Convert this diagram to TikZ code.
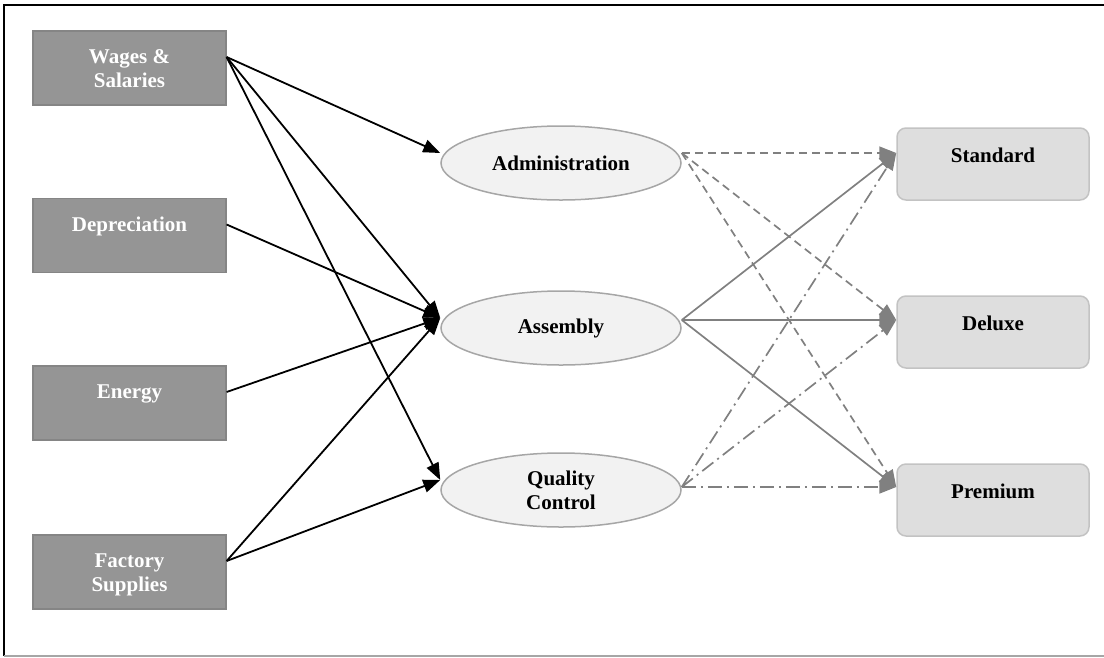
\documentclass[tikz,border=0pt]{standalone}
\usepackage{fontspec}
\setmainfont{Liberation Serif}
\usetikzlibrary{arrows.meta,shapes.geometric,calc}
\definecolor{srcfill}{HTML}{959595}
\definecolor{srcborder}{HTML}{858585}
\definecolor{ellfill}{HTML}{F2F2F2}
\definecolor{ellborder}{HTML}{A6A6A6}
\definecolor{prodfill}{HTML}{DEDEDE}
\definecolor{prodborder}{HTML}{C3C3C3}
\definecolor{arrgray}{HTML}{808080}
\begin{document}
\begin{tikzpicture}[x=1pt,y=-1pt,
  lbl/.style={font=\fontsize{21}{24}\selectfont\bfseries,align=center},
  srcbox/.style={draw=srcborder,fill=srcfill,line width=1.2pt,minimum width=193pt,minimum height=74pt,inner sep=0pt},
  srclbl/.style={lbl,text=white,inner sep=0pt,anchor=north},
  actell/.style={lbl,ellipse,draw=ellborder,fill=ellfill,line width=1.5pt,minimum width=240pt,minimum height=74pt,inner sep=0pt},
  prodbox/.style={lbl,draw=prodborder,fill=prodfill,rounded corners=9pt,line width=1.5pt,minimum width=192pt,minimum height=72pt,inner xsep=0pt,inner ysep=0pt,text height=34pt,text depth=38pt},
  blackarr/.style={draw=black,line width=1.8pt,-{Triangle[length=17pt,width=13pt]}},
  grayarr/.style={draw=arrgray,line width=1.7pt,-{Triangle[length=17pt,width=13pt]}},
  dsh/.style={dash pattern=on 8pt off 5pt},
  dshdot/.style={dash pattern=on 14pt off 5pt on 2pt off 5pt}
]
\useasboundingbox (0,0) rectangle (1104,657);
% frame
\draw[black,line width=1.5pt] (4,656) -- (4,5) -- (1104,5);
\draw[arrgray!70,line width=1.2pt] (4,656) -- (1104,656);

% source boxes
\node[srcbox] (wag) at (129.5,68) {};
\node[srcbox] (dep) at (129.5,235.5) {};
\node[srcbox] (ene) at (129.5,403) {};
\node[srcbox] (fac) at (129.5,572) {};
\node[srclbl] (wagT) at ($(wag.north)+(0,19)$) {Wages \&\\Salaries};
\node[srclbl] (depT) at ($(dep.north)+(0,19)$) {Depreciation};
\node[srclbl] (eneT) at ($(ene.north)+(0,19)$) {Energy};
\node[srclbl] (facT) at ($(fac.north)+(0,19)$) {Factory\\Supplies};

% activities
\node[actell] (adm) at (561,163) {Administration};
\node[actell] (asm) at (561,328) {Assembly};
\node[actell] (qc) at (561,490) {Quality\\Control};

% products
\node[prodbox] (std) at (993,164) {Standard};
\node[prodbox] (dlx) at (993,332) {Deluxe};
\node[prodbox] (prm) at (993,500) {Premium};

% anchor points
\coordinate (wagO) at ($(wag.east)+(0,-11)$);
\coordinate (depO) at ($(dep.east)+(0,-11)$);
\coordinate (eneO) at ($(ene.east)+(0,-11)$);
\coordinate (facO) at ($(fac.east)+(0,-11)$);
\coordinate (admI) at ($(adm.west)+(0,-10)$);
\coordinate (asmI) at ($(asm.west)+(0,-10)$);
\coordinate (qcI) at ($(qc.west)+(0,-10)$);
\coordinate (admO) at ($(adm.east)+(0,-10)$);
\coordinate (asmO) at ($(asm.east)+(0,-8)$);
\coordinate (qcO) at ($(qc.east)+(0,-3)$);
\coordinate (stdI) at ($(std.west)+(0,-11)$);
\coordinate (dlxI) at ($(dlx.west)+(0,-12)$);
\coordinate (prmI) at ($(prm.west)+(0,-13)$);

% black connectors
\draw[blackarr] (wagO) -- (admI);
\draw[blackarr] (wagO) -- (asmI);
\draw[blackarr] (wagO) -- (qcI);
\draw[blackarr] (depO) -- (asmI);
\draw[blackarr] (eneO) -- (asmI);
\draw[blackarr] (facO) -- (asmI);
\draw[blackarr] (facO) -- (qcI);

% gray connectors
\draw[grayarr,dsh] (admO) -- (stdI);
\draw[grayarr,dsh] (admO) -- (dlxI);
\draw[grayarr,dsh] (admO) -- (prmI);
\draw[grayarr] (asmO) -- (stdI);
\draw[grayarr] (asmO) -- (dlxI);
\draw[grayarr] (asmO) -- (prmI);
\draw[grayarr,dshdot] (qcO) -- (stdI);
\draw[grayarr,dshdot] (qcO) -- (dlxI);
\draw[grayarr,dshdot] (qcO) -- (prmI);
\end{tikzpicture}
\end{document}
